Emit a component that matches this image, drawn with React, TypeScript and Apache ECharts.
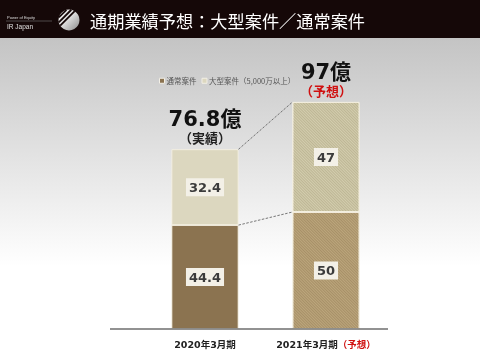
import React, { useEffect, useRef } from "react";
import * as echarts from "echarts";

const categories = ["2020年3月期", "2021年3月期"];
const forecastFlags = [false, true];
const normalValues = [44.4, 50];
const largeValues = [32.4, 47];
const totalTexts = ["76.8億", "97億"];
const totalNotes = ["（実績）", "（予想）"];
const seriesNames = ["通常案件", "大型案件（5,000万以上）"];
const titleText = "通期業績予想：大型案件／通常案件";

const JP = "'DejaVu Sans', 'Noto Sans CJK JP', sans-serif";
const JPT = "'Noto Sans CJK JP', 'Noto Sans', sans-serif";

function stripeLines(cx: number, cy: number, r: number) {
  const offs = [-2.2, -5.6, -9];
  const els: any[] = [];
  const s = Math.SQRT1_2;
  offs.forEach((d) => {
    const h = Math.sqrt(Math.max(r * r - d * d, 0));
    const px = cx + d * s;
    const py = cy + d * s;
    els.push({
      type: "line",
      shape: { x1: px - h * s, y1: py + h * s, x2: px + h * s, y2: py - h * s },
      style: { stroke: "#150808", lineWidth: 1.8 },
      z: 12,
    });
  });
  return els;
}

export default function App() {
  const ref = useRef<HTMLDivElement>(null);
  useEffect(() => {
    if (!ref.current) return;
    const chart = echarts.init(ref.current, undefined, { renderer: "svg" });
    const bottomColors = ["#8b7350", "#bca67c"];
    const topColors = ["#dcd7bf", "#d3cdae"];
    const totals = normalValues.map((v, i) => +(v + largeValues[i]).toFixed(1));
    const innerLabel = {
      show: true,
      position: "inside",
      fontFamily: JP,
      fontWeight: "bold",
      fontSize: 13,
      color: "#3b3b3b",
      backgroundColor: "#f3f0e7",
      padding: [3, 3, 2, 3],
    };
    chart.setOption({
      animation: false,
      backgroundColor: "transparent",
      graphic: [
        {
          type: "rect",
          shape: { x: 0, y: 38, width: 480, height: 317 },
          style: {
            fill: new echarts.graphic.LinearGradient(0, 0, 0, 1, [
              { offset: 0, color: "#c4c4c4" },
              { offset: 0.72, color: "#ffffff" },
              { offset: 1, color: "#ffffff" },
            ]),
          },
          z: -10,
          silent: true,
        },
        {
          type: "rect",
          shape: { x: 0, y: 0, width: 480, height: 38 },
          style: { fill: "#150808" },
          z: 10,
        },
        {
          type: "text",
          style: { text: "Power of Equity", x: 7, y: 15, fill: "#dddddd", fontSize: 4, fontFamily: "Liberation Sans" },
          z: 11,
        },
        {
          type: "line",
          shape: { x1: 6, y1: 21, x2: 52, y2: 21 },
          style: { stroke: "#777", lineWidth: 0.6 },
          z: 11,
        },
        {
          type: "text",
          style: { text: "IR Japan", x: 7, y: 23, fill: "#e0e0e0", fontSize: 6.5, fontFamily: "Liberation Sans" },
          z: 11,
        },
        {
          type: "circle",
          shape: { cx: 69, cy: 20, r: 10.5 },
          style: {
            fill: new echarts.graphic.LinearGradient(0, 0, 1, 1, [
              { offset: 0, color: "#ffffff" },
              { offset: 0.5, color: "#d8d8d8" },
              { offset: 1, color: "#8a8a8a" },
            ]),
          },
          z: 11,
        },
        ...stripeLines(69, 20, 10.5),
        {
          type: "text",
          style: {
            text: titleText,
            x: 90,
            y: 20,
            verticalAlign: "middle",
            fill: "#ffffff",
            fontSize: 17.2,
            fontFamily: JPT,
          },
          z: 11,
        },
        {
          type: "line",
          shape: { x1: 110, y1: 329, x2: 388, y2: 329 },
          style: { stroke: "#6e6e6e", lineWidth: 1.5 },
          z: 5,
        },
      ],
      legend: {
        data: seriesNames,
        left: 154,
        top: 72,
        itemWidth: 5,
        itemHeight: 5,
        itemGap: 5,
        icon: "rect",
        itemStyle: { borderColor: "#f2efe6", borderWidth: 1 },
        textStyle: { fontSize: 7.5, color: "#555", fontFamily: JPT, padding: [0, 0, 0, -3] },
        selectedMode: false,
      },
      grid: { left: 144.5, right: 93.5, top: 95, bottom: 26, containLabel: false },
      xAxis: {
        type: "category",
        data: categories,
        axisLine: { show: false },
        axisTick: { show: false },
        axisLabel: {
          interval: 0,
          hideOverlap: false,
          margin: 11,
          fontFamily: JP,
          fontWeight: "bold",
          fontSize: 9.5,
          color: "#222",
          formatter: (v: string) => {
            const i = categories.indexOf(v);
            return forecastFlags[i] ? v + "{r|（予想）}" : v;
          },
          rich: { r: { color: "#d01010", fontWeight: "bold", fontSize: 9.5, fontFamily: JP } },
        },
      },
      yAxis: { type: "value", min: 0, max: 100, show: false, splitLine: { show: false } },
      series: [
        {
          name: seriesNames[0],
          type: "bar",
          stack: "t",
          barWidth: 67,
          data: normalValues.map((v, i) => ({
            value: v,
            itemStyle: {
              color: bottomColors[i],
              borderColor: "#f6f1e2",
              borderWidth: 0.8,
              decal: forecastFlags[i]
                ? { symbol: "rect", symbolSize: 1, color: "rgba(110,85,50,0.28)", dashArrayX: [1, 0], dashArrayY: [1, 1], rotation: Math.PI / 4 }
                : "none",
            },
          })),
          itemStyle: { color: bottomColors[0] },
          label: innerLabel,
        },
        {
          name: seriesNames[1],
          type: "bar",
          stack: "t",
          barWidth: 67,
          data: largeValues.map((v, i) => ({
            value: v,
            itemStyle: {
              color: topColors[i],
              borderColor: "#f6f1e2",
              borderWidth: 0.8,
              decal: forecastFlags[i]
                ? { symbol: "rect", symbolSize: 1, color: "rgba(140,130,90,0.3)", dashArrayX: [1, 0], dashArrayY: [1, 1], rotation: Math.PI / 4 }
                : "none",
            },
          })),
          itemStyle: { color: topColors[0], borderColor: "#f6f1e2" },
          label: innerLabel,
        },
        {
          name: "total",
          type: "bar",
          stack: "t",
          barWidth: 67,
          data: totals.map(() => 0),
          itemStyle: { color: "transparent" },
          label: {
            show: true,
            position: "top",
            distance: 2,
            formatter: (p: any) =>
              "{a|" + totalTexts[p.dataIndex] + "}\n" + (forecastFlags[p.dataIndex] ? "{r|" : "{b|") + totalNotes[p.dataIndex] + "}",
            rich: {
              a: { fontFamily: JP, fontWeight: "bold", fontSize: 21, lineHeight: 23, color: "#111", align: "center" },
              b: { fontFamily: JP, fontWeight: "bold", fontSize: 13, lineHeight: 17, color: "#222", align: "center" },
              r: { fontFamily: JP, fontWeight: "bold", fontSize: 13, lineHeight: 17, color: "#d01010", align: "center" },
            },
          },
        },
        {
          type: "custom",
          name: "connectors",
          data: [
            [totals[0], totals[1]],
            [normalValues[0], normalValues[1]],
          ],
          renderItem: (params: any, api: any) => {
            const p0 = api.coord([0, api.value(0)]);
            const p1 = api.coord([1, api.value(1)]);
            const half = 33.5;
            return {
              type: "line",
              shape: { x1: p0[0] + half, y1: p0[1], x2: p1[0] - half, y2: p1[1] },
              style: { stroke: "#555", lineWidth: 0.8, lineDash: [2.5, 1.5] },
            };
          },
          z: 3,
        },
      ],
    });
    return () => chart.dispose();
  }, []);
  return <div ref={ref} style={{ width: 480, height: 355, position: "fixed", left: 0, top: 0 }} />;
}
